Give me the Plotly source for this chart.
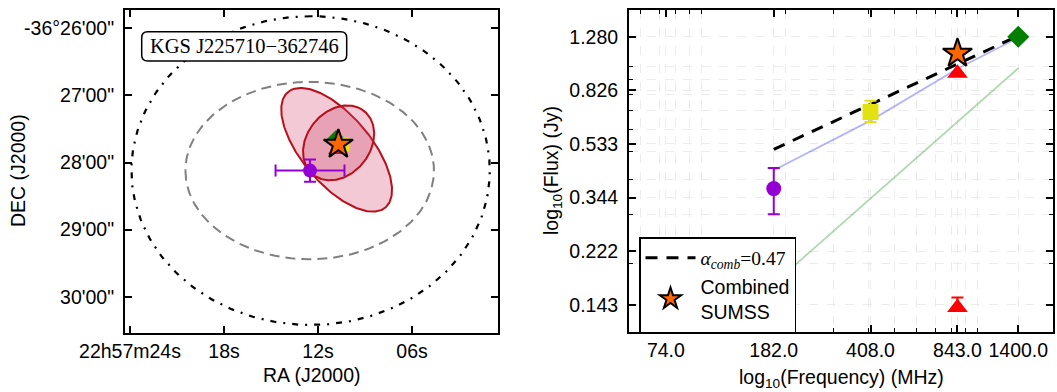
import numpy as np
import plotly.graph_objects as go

# ---------------- LEFT PANEL DATA ----------------
# RA in seconds after 22h57m, DEC in arcmin after -36 deg (southward positive)
ra_ticks = [24, 18, 12, 6]
ra_ticktext = ["22h57m24s", "18s", "12s", "06s"]
dec_ticks = [26, 27, 28, 29, 30]
dec_ticktext = ['-36°26\'00"', '27\'00"', '28\'00"', '29\'00"', '30\'00"']
dec_ref_deg = -36.46

# ellipses: centre RA (s), centre DEC (arcmin), semi-major ("), semi-minor ("), PA (deg)
outer_circle = [12.47, 28.12, 138.0, 138.0, 0.0]
dashed_ellipse = [12.53, 28.12, 95.7, 79.3, 90.0]
pink_ellipse_big = [10.81, 27.81, 64.0, 28.0, 34.0]
pink_ellipse_small = [10.685, 27.707, 35.0, 25.4, -25.2]

# source positions
pos_purple = [12.51, 28.12]
pos_purple_err = [2.2, 0.165]
pos_green = [10.85, 27.66]
pos_red = [10.74, 27.81]
pos_yellow = [10.43, 27.73]
pos_star = [10.70, 27.73]

# ---------------- RIGHT PANEL DATA ----------------
freq_ticks = [74.0, 182.0, 408.0, 843.0, 1400.0]
flux_ticks = [0.143, 0.222, 0.344, 0.533, 0.826, 1.280]
freq_minor = [60, 70, 80, 90, 100, 200, 300, 400, 500, 600, 700, 800, 900, 1000]
flux_minor = [0.2, 0.3, 0.4, 0.5, 0.6, 0.7, 0.8, 0.9, 1.0]

purple_freq, purple_flux, purple_up, purple_dn = [182.0], [0.37], [0.0675], [0.07]
yellow_freq, yellow_flux, yellow_up, yellow_dn = [408.0], [0.692], [0.066], [0.054]
red_freq, red_flux, red_up, red_dn = [843.0, 843.0], [0.95, 0.14], [0.0, 0.012], [0.0, 0.004]
star_freq, star_flux = [843.0], [1.117]
green_freq, green_flux = [1400.0], [1.28]

blue_line_freq = [182.0, 408.0, 843.0, 1400.0]
blue_line_flux = [0.43, 0.645, 0.985, 1.27]
green_line_freq = [182.0, 1400.0]
green_line_flux = [0.17, 0.99]
fit_freq = [182.0, 1400.0]
fit_flux = [0.51, 1.29]

# ---------------- STYLE ----------------
W, H = 1057, 392
SANS = "Liberation Sans, Arial, sans-serif"
SERIF = "Liberation Serif, Times New Roman, serif"
FS = 19.5
PURPLE = "#9400d3"
YELLOW = "#e2e210"
RED = "#ff0000"
GREEN = "#007f00"
ORANGE = "#ff6600"
EDGE = "rgb(185,15,25)"
PINK = "rgba(210,60,100,0.28)"
GRID = "#ececec"


def ellipse_xy(p, n=240):
    cra, cdec, a, b, pa = p
    t = np.linspace(0, 2 * np.pi, n)
    u, v = a * np.cos(t), b * np.sin(t)
    par = np.deg2rad(pa)
    dn = u * np.cos(par) - v * np.sin(par)
    de = u * np.sin(par) + v * np.cos(par)
    s_per_arcsec = 1.0 / (15.0 * np.cos(np.deg2rad(dec_ref_deg)))
    return cra + de * s_per_arcsec, cdec - dn / 60.0


fig = go.Figure()

# ---- left panel ----
x, y = ellipse_xy(outer_circle)
fig.add_trace(go.Scatter(x=x, y=y, mode="lines", showlegend=False, hoverinfo="skip",
                         line=dict(color="black", width=2.2, dash="6px,7px,2px,7px"),
                         xaxis="x", yaxis="y"))
x, y = ellipse_xy(dashed_ellipse)
fig.add_trace(go.Scatter(x=x, y=y, mode="lines", showlegend=False, hoverinfo="skip",
                         line=dict(color="gray", width=2, dash="10px,6px"),
                         xaxis="x", yaxis="y"))
for p in (pink_ellipse_big, pink_ellipse_small):
    x, y = ellipse_xy(p)
    fig.add_trace(go.Scatter(x=x, y=y, mode="lines", fill="toself", fillcolor=PINK,
                             showlegend=False, hoverinfo="skip",
                             line=dict(color=EDGE, width=2), xaxis="x", yaxis="y"))

fig.add_trace(go.Scatter(x=[pos_green[0]], y=[pos_green[1]], mode="markers", showlegend=False,
                         marker=dict(symbol="diamond", size=15, color=GREEN), xaxis="x", yaxis="y"))
fig.add_trace(go.Scatter(x=[pos_red[0]], y=[pos_red[1]], mode="markers", showlegend=False,
                         marker=dict(symbol="triangle-up", size=17, color=RED), xaxis="x", yaxis="y"))
fig.add_trace(go.Scatter(x=[pos_yellow[0]], y=[pos_yellow[1]], mode="markers", showlegend=False,
                         marker=dict(symbol="square", size=14, color=YELLOW), xaxis="x", yaxis="y"))
fig.add_trace(go.Scatter(x=[pos_purple[0]], y=[pos_purple[1]], mode="markers", showlegend=False,
                         marker=dict(symbol="circle", size=14, color=PURPLE),
                         error_x=dict(type="data", array=[pos_purple_err[0]], color=PURPLE,
                                      thickness=2, width=6),
                         error_y=dict(type="data", array=[pos_purple_err[1]], color=PURPLE,
                                      thickness=2, width=6),
                         xaxis="x", yaxis="y"))
fig.add_trace(go.Scatter(x=[pos_star[0]], y=[pos_star[1]], mode="markers", showlegend=False,
                         marker=dict(symbol="star", size=22, color=ORANGE,
                                     line=dict(color="black", width=2)),
                         xaxis="x", yaxis="y"))

# ---- right panel ----
fig.add_trace(go.Scatter(x=green_line_freq, y=green_line_flux, mode="lines", showlegend=False,
                         line=dict(color="rgba(0,128,0,0.3)", width=1.8), xaxis="x2", yaxis="y2"))
fig.add_trace(go.Scatter(x=blue_line_freq, y=blue_line_flux, mode="lines", showlegend=False,
                         line=dict(color="rgba(0,0,255,0.3)", width=1.8), xaxis="x2", yaxis="y2"))
fig.add_trace(go.Scatter(x=fit_freq, y=fit_flux, mode="lines",
                         name='<span style="font-family:Liberation Serif"><i>α<sub>comb</sub></i>=0.47</span>',
                         line=dict(color="black", width=3, dash="12px,9px"), xaxis="x2", yaxis="y2"))
fig.add_trace(go.Scatter(x=purple_freq, y=purple_flux, mode="markers", showlegend=False,
                         marker=dict(symbol="circle", size=15, color=PURPLE),
                         error_y=dict(type="data", symmetric=False, array=purple_up,
                                      arrayminus=purple_dn, color=PURPLE, thickness=2, width=6),
                         xaxis="x2", yaxis="y2"))
fig.add_trace(go.Scatter(x=yellow_freq, y=yellow_flux, mode="markers", showlegend=False,
                         marker=dict(symbol="square", size=16, color=YELLOW),
                         error_y=dict(type="data", symmetric=False, array=yellow_up,
                                      arrayminus=yellow_dn, color=YELLOW, thickness=2, width=6),
                         xaxis="x2", yaxis="y2"))
fig.add_trace(go.Scatter(x=red_freq, y=red_flux, mode="markers", showlegend=False,
                         marker=dict(symbol="triangle-up", size=18, color=RED),
                         error_y=dict(type="data", symmetric=False, array=red_up,
                                      arrayminus=red_dn, color=RED, thickness=2, width=6),
                         xaxis="x2", yaxis="y2"))
fig.add_trace(go.Scatter(x=green_freq, y=green_flux, mode="markers", showlegend=False,
                         marker=dict(symbol="diamond", size=17, color=GREEN),
                         xaxis="x2", yaxis="y2"))
fig.add_trace(go.Scatter(x=star_freq, y=star_flux, mode="markers", name="Combined<br>SUMSS",
                         marker=dict(symbol="star", size=22, color=ORANGE,
                                     line=dict(color="black", width=2)),
                         xaxis="x2", yaxis="y2"))

axis_common = dict(showline=True, linewidth=2, linecolor="black", mirror="allticks",
                   ticks="inside", ticklen=7, tickwidth=1.5, tickcolor="black",
                   zeroline=False, automargin=False,
                   tickfont=dict(family=SANS, size=FS, color="black"))

fig.update_layout(
    width=W, height=H,
    margin=dict(l=0, r=0, t=0, b=0, pad=0, autoexpand=False),
    paper_bgcolor="white", plot_bgcolor="white",
    font=dict(family=SANS, size=FS, color="black"),
    xaxis=dict(domain=[125 / W, 498 / W], range=[24.32, 0.51], anchor="y",
               tickmode="array", tickvals=ra_ticks, ticktext=ra_ticktext,
               showgrid=False, ticklabelstandoff=0, **axis_common),
    yaxis=dict(domain=[1 - 333 / H, 1 - 10 / H], range=[30.54, 25.727], anchor="x",
               tickmode="array", tickvals=dec_ticks, ticktext=dec_ticktext,
               showgrid=False, ticklabelstandoff=5, **axis_common),
    xaxis2=dict(type="log", domain=[629 / W, 1053 / W], range=[1.7355, 3.272], anchor="y2",
                tickmode="array", tickvals=freq_ticks,
                ticktext=[f"{v:.1f}" for v in freq_ticks],
                showgrid=True, gridcolor=GRID, griddash="dash", gridwidth=1,
                minor=dict(tickmode="array", tickvals=freq_minor, ticks="inside", ticklen=4,
                           tickwidth=1.2, tickcolor="black", showgrid=True,
                           gridcolor=GRID, griddash="dash", gridwidth=1),
                ticklabelstandoff=0, **axis_common),
    yaxis2=dict(type="log", domain=[1 - 332 / H, 1 - 10 / H], range=[-0.9408, 0.2022], anchor="x2",
                tickmode="array", tickvals=flux_ticks,
                ticktext=[f"{v:.3f}" for v in flux_ticks],
                showgrid=True, gridcolor=GRID, griddash="dash", gridwidth=1,
                minor=dict(tickmode="array", tickvals=flux_minor, ticks="inside", ticklen=4,
                           tickwidth=1.2, tickcolor="black", showgrid=True,
                           gridcolor=GRID, griddash="dash", gridwidth=1),
                ticklabelstandoff=5, **axis_common),
    legend=dict(x=639 / W, y=1 - 237 / H, xanchor="left", yanchor="top",
                bgcolor="white", bordercolor="black", borderwidth=1.5, itemwidth=50,
                font=dict(family=SANS, size=FS, color="black"), traceorder="normal"),
)

# rounded label box (left panel)
bx0, bx1 = 141.7 / W, 346.7 / W
by0, by1 = 1 - 61 / H, 1 - 31.7 / H
rx, ry = 6 / W, 6 / H
box_path = (f"M {bx0 + rx},{by0} L {bx1 - rx},{by0} Q {bx1},{by0} {bx1},{by0 + ry} "
            f"L {bx1},{by1 - ry} Q {bx1},{by1} {bx1 - rx},{by1} L {bx0 + rx},{by1} "
            f"Q {bx0},{by1} {bx0},{by1 - ry} L {bx0},{by0 + ry} Q {bx0},{by0} {bx0 + rx},{by0} Z")
fig.add_shape(type="path", path=box_path, xref="paper", yref="paper",
              line=dict(color="black", width=1.5), fillcolor="white", layer="above")
fig.add_annotation(x=(bx0 + bx1) / 2, y=(by0 + by1) / 2, xref="paper", yref="paper",
                   xanchor="center", yanchor="middle",
                   text="KGS J225710−362746", showarrow=False,
                   font=dict(family=SERIF, size=20.5, color="black"))

# axis titles
title_font = dict(family=SANS, size=FS, color="black")
fig.add_annotation(x=311.5 / W, y=1 - 375 / H, xref="paper", yref="paper", text="RA (J2000)",
                   xanchor="center", yanchor="middle", showarrow=False, font=title_font)
fig.add_annotation(x=18 / W, y=1 - 171 / H, xref="paper", yref="paper", text="DEC (J2000)",
                   xanchor="center", yanchor="middle", textangle=-90, showarrow=False,
                   font=title_font)
fig.add_annotation(x=841 / W, y=1 - 378 / H, xref="paper", yref="paper",
                   text="log<sub>10</sub>(Frequency) (MHz)", xanchor="center", yanchor="middle",
                   showarrow=False, font=title_font)
fig.add_annotation(x=552 / W, y=1 - 171 / H, xref="paper", yref="paper",
                   text="log<sub>10</sub>(Flux) (Jy)", textangle=-90, xanchor="center",
                   yanchor="middle", showarrow=False, font=title_font)

fig.write_html("out.html", config={"displayModeBar": False},
               post_script="document.body.style.margin='0px';")
